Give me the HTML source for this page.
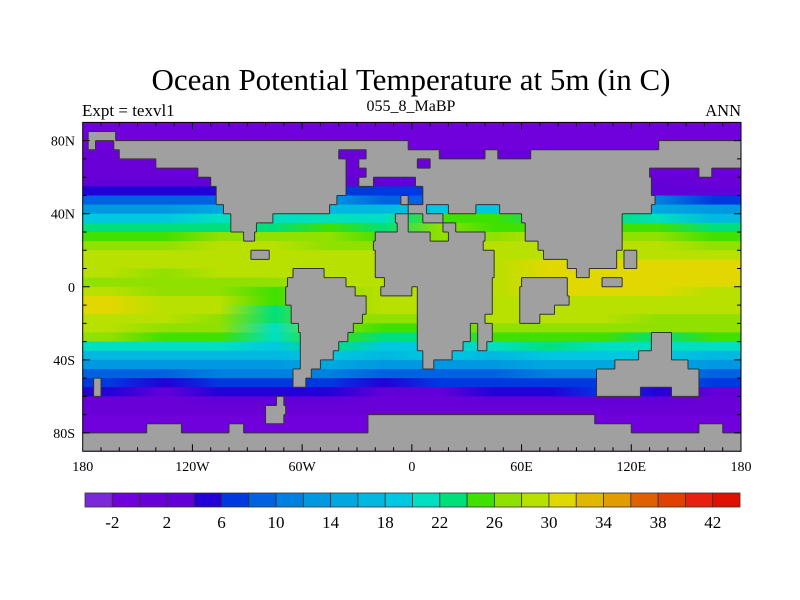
<!DOCTYPE html>
<html><head><meta charset="utf-8">
<style>
html,body{margin:0;padding:0;background:#fff;width:800px;height:600px;overflow:hidden;font-family:"Liberation Serif",serif;}
</style></head>
<body>
<svg id="chart" width="800" height="600" xmlns="http://www.w3.org/2000/svg" font-family="Liberation Serif, serif">
<defs id="defs"></defs>
<text x="411" y="90" font-size="31" text-anchor="middle">Ocean Potential Temperature at 5m (in C)</text>
<text x="82" y="116" font-size="17">Expt = texvl1</text>
<text x="411" y="111" font-size="16" text-anchor="middle">055_8_MaBP</text>
<text x="741" y="116" font-size="16.5" text-anchor="end">ANN</text>
<g id="ocean"></g>
<g id="land"></g>
<g id="coast"></g>
<g id="ticks"></g>
<g id="cbar"></g>
</svg>
<script>
// column centre longitudes of the temperature grid (30-degree columns)
const gridLons = [-165,-135,-105,-75,-45,-15,15,45,75,105,135,165];
// SST per 5-degree latitude row (90N -> 90S), one value per column
const sstRows = [
 [-1,-1,-1,-1,-1,-1,-1,-1,-1,-1,-1,-1],
 [-1,-1,-1,-1,-1,-1,-1,-1,-1,-1,-1,-1],
 [-0.5,-0.5,-0.5,-0.5,-0.5,-0.5,-0.5,-0.5,-0.5,-0.5,-0.5,-0.5],
 [0,0,0,0,0,0,0,0,0,0,0,0],
 [0.5,0.5,0.5,0.5,0.5,0.5,0.5,0.5,0.5,0.5,0.5,0.5],
 [1.5,1.5,1.5,1.5,1.5,1.5,1.5,1.5,1.5,1.5,1.5,1],
 [3,3,3,3,3,3,3,3,3,3,2,0.5],
 [5,5,5,5,6,6,6,6,6,6,3,2],
 [9,9,9,9,12,9,9,9,9,9,10,7],
 [13,13,14,14,16,16,18,19,19,17,15,12],
 [18,18,20,20,21,21,24,24,22,22,20,17],
 [22,22,23,23,24,23,26,25,25,24,24,22],
 [25,25,26,27,26,25,27,27,28,27,26,25],
 [27.5,27,28,28.5,27,27,28,28,29,28.5,28,27],
 [29,29,29,29,28.5,28.5,29,29,29.5,29.5,29.5,29],
 [29,29,29,28.5,29,29,29,29,30,30,30.5,30],
 [28,27.5,28,28,29,29,29,29,30.5,30,31,30.5],
 [27,26,26,26,28,28,29,29,30,30.5,31,30],
 [28.5,27,26,25,27,29,29,29,30,30,30,29],
 [31,29.5,28,24,26,28.5,28.5,29,29.5,29.5,29,28.5],
 [30,29.5,28,23,26,28,28,29,29,29,28,28],
 [29,28,27,22,26,26,27,28,28.5,28,27,27],
 [28,27,26,21,26,24,25,27,27,26,26,26],
 [26,25,24,20,24,22,22,25,25,24,23,24],
 [20,21,21,19,22,19,19,21,22,21,21,21],
 [17,17,17,16,18,16,18,17,18,18,18,17],
 [13,13,13,13,14,12,13,13,14,14,14,13],
 [9,9,10,10,10,8,9,9,10,10,11,9],
 [6,5,7,6,6,5,6,6,6,7,9,6],
 [4,3,5,5,4,3,3,4,4,6,5,3.5],
 [1.5,1.5,2,3,2,1,1,2,2,2,2,1],
 [0,0,0,0,0,0,0,0,0,0,0,0],
 [-0.5,-0.5,-0.5,-0.5,-0.5,-0.5,-0.5,-0.5,-0.5,-0.5,-0.5,-0.5],
 [-1,-1,-1,-1,-1,-1,-1,-1,-1,-1,-1,-1],
 [-1,-1,-1,-1,-1,-1,-1,-1,-1,-1,-1,-1],
 [-1,-1,-1,-1,-1,-1,-1,-1,-1,-1,-1,-1]
];
// land intervals [lonStart, lonEnd] per 5-degree row, 90N -> 90S
const landRows = [
 [],
 [[-177,-162]],
 [[-177,-173],[-163,-2],[135,180]],
 [[-160,-40],[-25,15],[40,47],[65,180]],
 [[-140,-36],[-29,3],[10,180]],
 [[-117,-36],[-25,130],[157,164]],
 [[-110,-36],[-29,-21],[2,131]],
 [[-107,-36],[6,131]],
 [[-107,-41],[-6,-2],[6,133]],
 [[-103,-45],[-2,8],[20,35],[48,131]],
 [[-99,-76],[-9,-2],[6,17],[60,115]],
 [[-99,-85],[-8,-2],[17,24],[62,115]],
 [[-92,-86],[-20,10],[20,40],[62,115]],
 [[-21,39],[69,115]],
 [[-88,-78],[-20,45],[72,112],[116,123]],
 [[-20,45],[85,112],[116,123]],
 [[-65,-48],[-20,45],[90,97]],
 [[-68,-36],[-15,44],[60,85],[104,115]],
 [[-69,-31],[-17,0],[3,44],[59,85]],
 [[-69,-25],[3,44],[59,86]],
 [[-66,-25],[3,44],[59,78]],
 [[-66,-27],[3,40],[59,70]],
 [[-62,-32],[3,32],[36,44]],
 [[-61,-35],[3,32],[36,44],[131,142]],
 [[-61,-40],[3,28],[36,41],[131,142]],
 [[-61,-43],[6,22],[124,142]],
 [[-61,-50],[6,12],[111,151]],
 [[-65,-55],[101,157]],
 [[-174,-170],[-65,-58],[101,157]],
 [[-174,-170],[101,125],[142,157]],
 [[-74,-70]],
 [[-80,-69]],
 [[-80,-70],[-24,100]],
 [[-145,-126],[-100,-92],[-24,120],[157,170]],
 [[-180,180]],
 [[-180,180]]
];
const cbarColors = ["#7a28d8","#7000dc","#6a00d8","#6200d8","#2400d8","#0038e0","#0062e0","#0080e0","#0098e0","#00a8e0","#00b8e0","#00c8e0","#00e0c0","#00e07a","#40e000","#90e000","#b8e000","#e0d800","#e0b800","#e09c00","#e06000","#e04000","#e82010","#e01000"];
const cbarLabels = ["-2","2","6","10","14","18","22","26","30","34","38","42"];
const lonLabels = ["180","120W","60W","0","60E","120E","180"];
const latLabels = ["80N","40N","0","40S","80S"];
const latValues = [80,40,0,-40,-80];
const lonValues = [-180,-120,-60,0,60,120,180];

const NS="http://www.w3.org/2000/svg";
const X0=82.7,X1=741,Y0=122.4,Y1=451.2;
const xs=lon=>X0+(lon+180)/360*(X1-X0);
const ys=lat=>Y0+(90-lat)/180*(Y1-Y0);
function mk(tag,attrs,parent){const e=document.createElementNS(NS,tag);for(const k in attrs)e.setAttribute(k,attrs[k]);parent.appendChild(e);return e;}
const colorFor=v=>cbarColors[Math.max(0,Math.min(23,Math.floor((v+4)/2)))];

// ocean rows with longitudinal gradients
const defs=document.getElementById('defs');
const ocean=document.getElementById('ocean');
sstRows.forEach((vals,j)=>{
  const g=mk('linearGradient',{id:'g'+j,x1:0,y1:0,x2:1,y2:0},defs);
  vals.forEach((v,i)=>{mk('stop',{offset:(gridLons[i]+180)/360,'stop-color':colorFor(v)},g);});
  const lat0=90-5*j;
  const r=mk('rect',{x:X0,y:ys(lat0),width:X1-X0,height:ys(lat0-5)-ys(lat0)+0.5,fill:'url(#g'+j+')'},ocean);
  
  
});
// land
const land=document.getElementById('land');
landRows.forEach((row,j)=>{
  row.forEach(([a,b])=>{
    const r=mk('rect',{x:xs(a),y:ys(90-5*j),width:xs(b)-xs(a),height:ys(85-5*j)-ys(90-5*j)+0.3,fill:"#a0a0a0"},land);
    
    
  });
});
// coast outlines
const coast=document.getElementById('coast');
let d="";
landRows.forEach((row,j)=>{
  const yt=ys(90-5*j),yb=ys(85-5*j);
  row.forEach(([a,b])=>{
    if(a>-180)d+=`M${xs(a)},${yt}V${yb}`;
    if(b<180)d+=`M${xs(b)},${yt}V${yb}`;
    [[j-1,yt],[j+1,yb]].forEach(([k,yy])=>{
      if(k<0||k>=landRows.length)return;
      const cov=landRows[k].filter(([c,e])=>e>a&&c<b).map(([c,e])=>[Math.max(a,c),Math.min(b,e)]).sort((p,q)=>p[0]-q[0]);
      let cur=a;cov.forEach(([c,e])=>{if(c>cur)d+=`M${xs(cur)},${yy}H${xs(c)}`;cur=Math.max(cur,e);});
      if(cur<b)d+=`M${xs(cur)},${yy}H${xs(b)}`;
    });
  });
});
const cp=mk('path',{d:d,stroke:"#333",'stroke-width':1,fill:"none"},coast);



// frame and ticks
const tk=document.getElementById('ticks');
const fr=mk('rect',{x:X0,y:Y0,width:X1-X0,height:Y1-Y0,fill:"none",stroke:"#000",'stroke-width':1},tk);


let td="";
for(let lon=-170;lon<180;lon+=10){const L=(lon%60===0)?7:4;const x=xs(lon);td+=`M${x},${Y0}v${L}M${x},${Y1}v${-L}`;}
for(let lat=-80;lat<=80;lat+=10){const L=(lat%40===0)?7:4;const y=ys(lat);td+=`M${X0},${y}h${L}M${X1},${y}h${-L}`;}
const tp=mk('path',{d:td,stroke:"#000",'stroke-width':1},tk);


lonLabels.forEach((s,i)=>{const t=mk('text',{x:xs(lonValues[i]),y:471,'font-size':14,'text-anchor':'middle'},tk);t.textContent=s;

});
latLabels.forEach((s,i)=>{const t=mk('text',{x:75,y:ys(latValues[i])+5,'font-size':14,'text-anchor':'end'},tk);t.textContent=s;

});

// colorbar
const cb=document.getElementById('cbar');
const CX0=85,CX1=740,CY=493,CH=14,bw=(CX1-CX0)/cbarColors.length;
cbarColors.forEach((c,i)=>{const r=mk('rect',{x:CX0+i*bw,y:CY,width:bw,height:CH,fill:c,stroke:"#333",'stroke-width':0.8},cb);

});
cbarLabels.forEach((s,i)=>{const t=mk('text',{x:CX0+(1+2*i)*bw,y:528,'font-size':17,'text-anchor':'middle'},cb);t.textContent=s;

});
</script>
</body></html>
